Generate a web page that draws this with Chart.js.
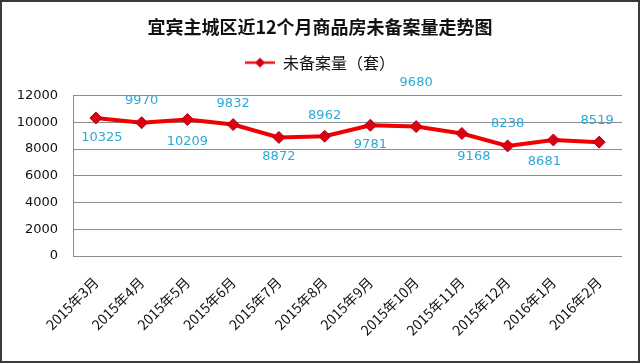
<!DOCTYPE html>
<html>
<head>
<meta charset="utf-8">
<script src="https://cdn.jsdelivr.net/npm/chart.js@4"></script>
<style>
  html, body { margin: 0; padding: 0; background: #fff; }
  #wrap { width: 640px; height: 363px; position: relative; }
</style>
</head>
<body>
<div id="wrap"><canvas id="chart" width="640" height="363"></canvas></div>
<script>
// 数据
let months = ['2015年3月', '2015年4月', '2015年5月', '2015年6月', '2015年7月', '2015年8月',
  '2015年9月', '2015年10月', '2015年11月', '2015年12月', '2016年1月', '2016年2月'];
let unfiled = [10325, 9970, 10209, 9832, 8872, 8962, 9781, 9680, 9168, 8238, 8681, 8519];
let yTicks = [0, 2000, 4000, 6000, 8000, 10000, 12000];

// 数据标签的偏移（像素）
let labelShift = [[6, 20], [0, -22], [0, 22], [0, -21], [0, 19], [0, -21],
  [0, 19], [0, -44], [12, 23], [0, -22], [-9, 22], [-2, -22]];

let numFont = '"DejaVu Sans", Verdana, sans-serif';
let cjkFont = '"Noto Sans CJK SC", "Noto Sans", sans-serif';

// 图例图标：线 + 菱形
function legendIcon() {
  let c = document.createElement('canvas');
  c.width = 30; c.height = 12;
  let g = c.getContext('2d');
  g.strokeStyle = '#e8141c';
  g.lineWidth = 2.5;
  g.beginPath(); g.moveTo(0, 6); g.lineTo(30, 6); g.stroke();
  g.fillStyle = '#d40010';
  g.beginPath(); g.moveTo(15, 1); g.lineTo(20, 6); g.lineTo(15, 11); g.lineTo(10, 6); g.closePath(); g.fill();
  return c;
}

let dataLabels = {
  id: 'dataLabels',
  afterDatasetsDraw(chart) {
    let ctx = chart.ctx;
    let meta = chart.getDatasetMeta(0);
    ctx.save();
    ctx.font = '13px ' + numFont;
    ctx.fillStyle = '#2ea8d8';
    ctx.textAlign = 'center';
    ctx.textBaseline = 'middle';
    meta.data.forEach((pt, i) => {
      let s = labelShift[i];
      ctx.fillText(String(unfiled[i]), pt.x + s[0], pt.y + s[1]);
    });
    ctx.restore();
  }
};

// 图例下方留白
let legendGap = {
  id: 'legendGap',
  afterInit(chart) {
    let lg = chart.legend;
    let fit = lg.fit.bind(lg);
    lg.fit = function () { fit(); this.height += 15; };
  }
};

let frame = {
  id: 'frame',
  afterDraw(chart) {
    let ctx = chart.ctx;
    ctx.save();
    ctx.strokeStyle = '#3a3a3a';
    ctx.lineWidth = 2;
    ctx.strokeRect(1, 1, 638, 361);
    ctx.restore();
  }
};

let ctx = document.getElementById('chart').getContext('2d');
let chart = new Chart(ctx, {
  type: 'line',
  data: {
    labels: months,
    datasets: [{
      label: '未备案量（套）',
      data: unfiled,
      borderColor: '#f00000',
      borderWidth: 4,
      pointStyle: 'rectRot',
      pointRadius: 6,
      pointBackgroundColor: '#dd0010',
      pointBorderColor: '#b00018',
      pointBorderWidth: 1,
      tension: 0
    }]
  },
  options: {
    responsive: false,
    animation: false,
    layout: { padding: { top: 10, left: 18, right: 18, bottom: 0 } },
    scales: {
      x: {
        offset: true,
        afterFit: (axis) => { axis.height = 107; },
        grid: { display: false, drawTicks: false },
        border: { display: false },
        ticks: {
          minRotation: 45, maxRotation: 45, autoSkip: false,
          padding: 18,
          color: '#111',
          font: { family: cjkFont, size: 14 }
        }
      },
      y: {
        min: 0, max: 12000,
        afterBuildTicks: (axis) => { axis.ticks = yTicks.map(v => ({ value: v })); },
        afterFit: (axis) => { axis.width = 55; },
        grid: { color: '#8c8c8c', lineWidth: 1, drawTicks: false },
        border: { display: true, color: '#8c8c8c' },
        ticks: {
          padding: 15,
          color: '#111',
          font: { family: numFont, size: 13 },
          callback: (v) => String(v)
        }
      }
    },
    plugins: {
      title: {
        display: true,
        text: '宜宾主城区近12个月商品房未备案量走势图',
        color: '#111',
        font: { family: cjkFont, size: 18, weight: 'bold' },
        padding: { top: 6, bottom: 7 }
      },
      legend: {
        display: true,
        labels: {
          color: '#111',
          font: { family: cjkFont, size: 16 },
          usePointStyle: true,
          pointStyleWidth: 30,
          boxHeight: 12,
          generateLabels: (c) => [{
            text: '未备案量（套）',
            pointStyle: legendIcon(),
            fontColor: '#111',
            lineWidth: 0,
            hidden: false,
            datasetIndex: 0
          }]
        }
      },
      tooltip: { enabled: false }
    }
  },
  plugins: [dataLabels, legendGap, frame]
});
</script>
</body>
</html>
